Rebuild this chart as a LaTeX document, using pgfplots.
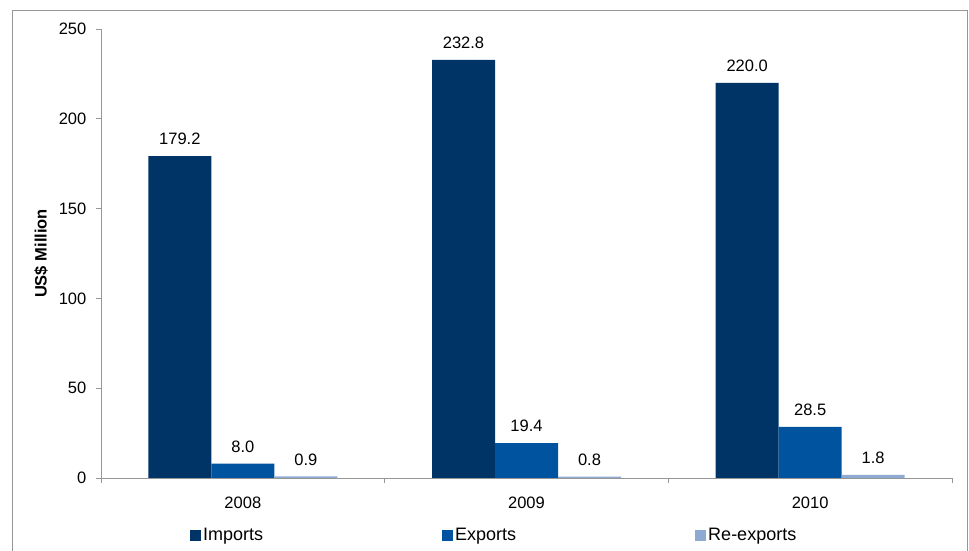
\documentclass[border=0pt]{standalone}
\usepackage{pgfplots}
\pgfplotsset{compat=1.18}
\usepackage{fontspec}
\setmainfont{Liberation Sans}
\definecolor{imp}{RGB}{0,51,102}
\definecolor{exq}{RGB}{0,84,159}
\definecolor{rex}{RGB}{143,170,210}
\definecolor{axgray}{RGB}{150,150,150}
\begin{document}
\fontsize{16.5}{20}\selectfont
\begin{tikzpicture}
\useasboundingbox (0,0) rectangle (969pt,551pt);
\draw[axgray, line width=1pt] (12pt,0pt) -- (12pt,540pt) -- (967pt,540pt) -- (967pt,0pt);
\begin{axis}[
 at={(101pt,73pt)}, anchor=south west,
 scale only axis, width=851pt, height=449pt,
 xmin=-0.5, xmax=2.5, ymin=0, ymax=250,
 axis x line=bottom, axis y line=left,
 axis line style={axgray,-, line width=0.8pt},
 ybar=0pt, bar width=63pt,
 ytick={0,50,100,150,200,250},
 yticklabel style={xshift=-4pt},
 tick align=outside, major tick length=5pt,
 tick style={axgray, line width=0.8pt},
 xtick={-0.5,0.5,1.5,2.5}, xticklabels={},
 extra x ticks={0,1,2}, extra x tick labels={2008,2009,2010},
 extra x tick style={major tick length=0pt, tick label style={yshift=-13pt}},
 ylabel={\bfseries US\$ Million},
 ylabel style={at={(axis description cs:-0.0705,0.5)}, anchor=center},
 /pgf/number format/assume math mode=true,
 nodes near coords,
 every node near coord/.append style={/pgf/number format/fixed, /pgf/number format/fixed zerofill, /pgf/number format/precision=1, inner sep=0pt, yshift=11pt, text=black},
 legend columns=3,
 legend cell align=left,
 legend style={at={(axis description cs:0.1046,-0.129)}, anchor=west, draw=none, fill=none, inner sep=0pt, font=\fontsize{18}{21}\selectfont, /tikz/every even column/.append style={column sep=177pt}},
 legend image code/.code={\draw[#1,draw=none] (0pt,-5.5pt) rectangle (11pt,5.5pt);},
]
\addplot[fill=imp, draw=none] coordinates {(0,179.2) (1,232.8) (2,220.0)};
\addplot[fill=exq, draw=none] coordinates {(0,8.0) (1,19.4) (2,28.5)};
\addplot[fill=rex, draw=none] coordinates {(0,0.9) (1,0.8) (2,1.8)};
\legend{Imports, Exports, Re-exports}
\end{axis}
\end{tikzpicture}
\end{document}
